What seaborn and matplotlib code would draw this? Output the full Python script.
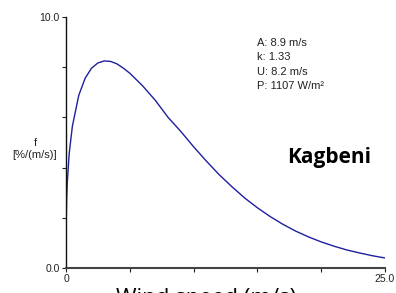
import numpy as np
import pandas as pd
import matplotlib
matplotlib.use("Agg")
import matplotlib.pyplot as plt
import seaborn as sns

# Weibull frequency curve (wind speed m/s -> f in %/(m/s))
speed = [0, 0.05, 0.1, 0.25, 0.5, 1, 1.5, 2, 2.5, 3, 3.5, 4, 4.5, 5, 6, 7, 8, 9, 10,
         11, 12, 13, 14, 15, 16, 17, 18, 19, 20, 21, 22, 23, 24, 25]
freq = [1.5, 2.7, 3.4, 4.56, 5.65, 6.88, 7.56, 7.96, 8.17, 8.25, 8.23, 8.13, 7.96, 7.76,
        7.26, 6.68, 6.00, 5.44, 4.83, 4.26, 3.72, 3.24, 2.79, 2.40, 2.05, 1.74, 1.47,
        1.24, 1.04, 0.87, 0.72, 0.60, 0.49, 0.40]

stats = ["A: 8.9 m/s", "k: 1.33", "U: 8.2 m/s", "P: 1107 W/m\u00b2"]
site = "Kagbeni"

x_ticks = [0, 5, 10, 15, 20, 25]
x_labels = ["0", "", "", "", "", "25.0"]
y_ticks = [0, 2, 4, 6, 8, 10]
y_labels = ["0.0", "", "", "", "", "10.0"]

df = pd.DataFrame({"speed": speed, "freq": freq})

sns.set_style("white")
plt.rcParams["font.family"] = ["Liberation Sans", "DejaVu Sans"]

fig = plt.figure(figsize=(3.96, 2.93), dpi=100)
ax = fig.add_axes([66 / 396, 1 - 268 / 293, (385 - 66) / 396, (268 - 17) / 293])

sns.lineplot(data=df, x="speed", y="freq", ax=ax, color="#1f1f9e", linewidth=1.0)

ax.set_xlim(0, 25)
ax.set_ylim(0, 10)
ax.set_xticks(x_ticks)
ax.set_xticklabels(x_labels)
ax.set_yticks(y_ticks)
ax.set_yticklabels(y_labels)
ax.tick_params(axis="both", direction="out", length=3, width=0.8, colors="#222222",
               labelsize=7.5, pad=1.5, bottom=True, left=True)
ax.set_xlabel("")
ax.set_ylabel("")

for s in ["top", "right"]:
    ax.spines[s].set_visible(False)
ax.spines["left"].set_color("#111111")
ax.spines["left"].set_linewidth(1.0)
ax.spines["bottom"].set_color("#444444")
ax.spines["bottom"].set_linewidth(1.5)

# y axis label, horizontal, left of the axis
fig.text(35 / 396, 1 - 149 / 293, "f\n[%/(m/s)]", ha="center", va="center",
         fontsize=8, color="#222222", linespacing=1.15)

# Weibull parameters block
for i, line in enumerate(stats):
    fig.text(257 / 396, 1 - (42.5 + 14.6 * i) / 293, line, ha="left", va="center",
             fontsize=8, color="#222222")

fig.text(329 / 396, 1 - 158 / 293, site, ha="center", va="center",
         fontsize=15, fontweight="bold", family=["Open Sans", "DejaVu Sans"], color="black")

# x label mostly cut off at the bottom edge, as in the source image
fig.text(206 / 396, 1 - 304 / 293, "Wind speed (m/s)", ha="center", va="baseline",
         fontsize=16, family=["Open Sans", "DejaVu Sans"], color="black")

fig.savefig("out.png", dpi=100)
